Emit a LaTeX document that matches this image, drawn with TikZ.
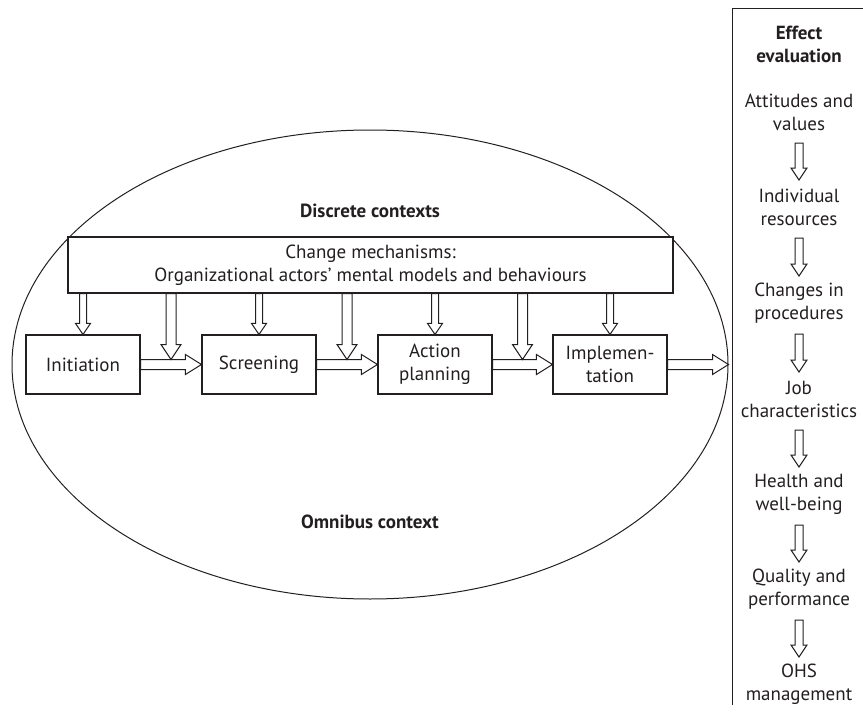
\documentclass[tikz,border=0pt]{standalone}
\usepackage{fontspec}
\setmainfont{PT Sans}
\usetikzlibrary{calc,shapes.geometric}
\definecolor{ink}{HTML}{231F20}

% hollow block arrow pointing down, from #1 to #2 (same x);
% #3 half shaft width, #4 half head width, #5 head length
\newcommand\hollowdown[5]{%
  \draw[hollow] ($(#1)+(-#3,0)$) -- ($(#2)+(-#3,-#5)$) -- ($(#2)+(-#4,-#5)$) -- (#2)
    -- ($(#2)+(#4,-#5)$) -- ($(#2)+(#3,-#5)$) -- ($(#1)+(#3,0)$) -- cycle;}
% hollow block arrow pointing right, from #1 to #2 (same y)
\newcommand\hollowright[5]{%
  \draw[hollow] ($(#1)+(0,-#3)$) -- ($(#2)+(-#5,-#3)$) -- ($(#2)+(-#5,-#4)$) -- (#2)
    -- ($(#2)+(-#5,#4)$) -- ($(#2)+(-#5,#3)$) -- ($(#1)+(0,#3)$) -- cycle;}

\begin{document}
\begin{tikzpicture}[x=1pt,y=-1pt,
  every node/.style={text=ink, font=\fontsize{19}{23}\selectfont},
  box/.style={draw=ink, line width=1.1pt, fill=white, minimum width=114pt,
    minimum height=59pt, inner sep=2pt, align=center},
  hollow/.style={draw=ink, fill=white, line width=1pt, line join=miter},
  panel/.style={align=center, inner sep=0pt},
  heading/.style={font=\fontsize{19}{23}\selectfont\bfseries}]
\useasboundingbox (0,0) rectangle (863,717);

% outer context
\node[ellipse, draw=ink, line width=1pt, minimum width=716pt, minimum height=469pt,
  inner sep=0pt] (ctx) at (370,364.5) {};
\node[heading] (discrete) at (370,211) {Discrete contexts};
\node[heading] (omnibus) at (370,522) {Omnibus context};

% change mechanisms and the four phases
\node[box, minimum width=605pt, minimum height=56pt] (chg) at (370.5,265)
  {Change mechanisms:\\Organizational actors’ mental models and behaviours};
\node[box] (init) at (83,364.5) {Initiation};
\node[box] (scr) at (259,364.5) {Screening};
\node[box] (act) at (435,364.5) {Action\\planning};
\node[box] (imp) at (610,364.5) {Implemen-\\tation};

% arrow ends
\coordinate (t1) at (init.north |- chg.south);
\coordinate (t2) at (scr.north |- chg.south);
\coordinate (t3) at (act.north |- chg.south);
\coordinate (t4) at (imp.north |- chg.south);
\coordinate (m1) at ($(init.east)!0.5!(scr.west)$);
\coordinate (m2) at ($(scr.east)!0.5!(act.west)$);
\coordinate (m3) at ($(act.east)!0.5!(imp.west)$);
\coordinate (w1a) at (m1 |- chg.south);
\coordinate (w2a) at (m2 |- chg.south);
\coordinate (w3a) at (m3 |- chg.south);
\coordinate (w1b) at ($(m1)+(0,-5)$);
\coordinate (w2b) at ($(m2)+(0,-5)$);
\coordinate (w3b) at ($(m3)+(0,-5)$);
\coordinate (exit) at (imp.east -| ctx.east);

% mechanisms acting on each phase
\hollowdown{t1}{init.north}{3.5}{7.5}{11}
\hollowdown{t2}{scr.north}{3.5}{7.5}{11}
\hollowdown{t3}{act.north}{3.5}{7.5}{11}
\hollowdown{t4}{imp.north}{3.5}{7.5}{11}

% phase to phase
\hollowright{init.east}{scr.west}{5}{10}{16}
\hollowright{scr.east}{act.west}{5}{10}{16}
\hollowright{act.east}{imp.west}{5}{10}{16}
\hollowright{imp.east}{exit}{5}{10}{16}

% mechanisms acting on the transitions
\hollowdown{w1a}{w1b}{5}{10}{15}
\hollowdown{w2a}{w2b}{5}{10}{15}
\hollowdown{w3a}{w3b}{5}{10}{15}

% effect evaluation column
\draw[draw=ink, line width=1pt] (732,705) -- (732,9) -- (863,9);
\node[panel, heading] (eff) at (799,44.5) {Effect\\evaluation};
\node[panel] (e1) at (799,112.5) {Attitudes and\\values};
\node[panel] (e2) at (799,207.5) {Individual\\resources};
\node[panel] (e3) at (799,303.5) {Changes in\\procedures};
\node[panel] (e4) at (799,399.5) {Job\\characteristics};
\node[panel] (e5) at (799,494.5) {Health and\\well-being};
\node[panel] (e6) at (799,589.5) {Quality and\\performance};
\node[panel] (e7) at (799,684.5) {OHS\\management};

\foreach \a/\b in {e1/e2,e2/e3,e3/e4,e4/e5,e5/e6,e6/e7}{
  \coordinate (\a s) at ($(\a.center)+(0,30.5)$);
  \coordinate (\b n) at ($(\b.center)+(0,-27.5)$);
  \hollowdown{\a s}{\b n}{4}{8}{12}
}
\end{tikzpicture}
\end{document}
